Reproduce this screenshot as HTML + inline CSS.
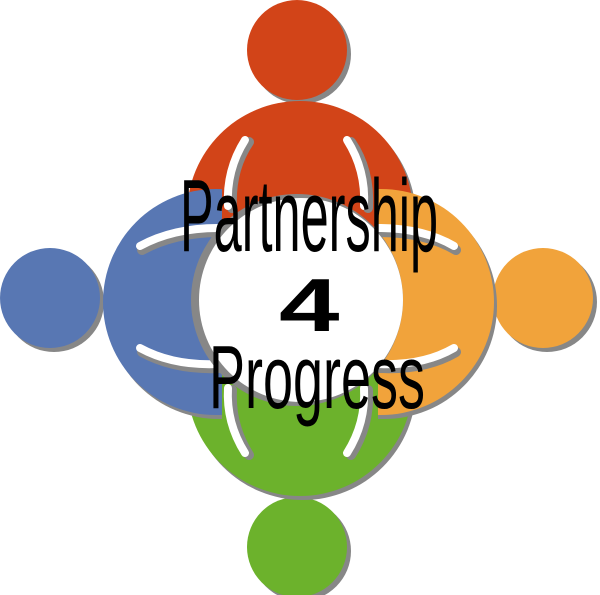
<!DOCTYPE html>
<html><head><style>html,body{margin:0;padding:0;background:#fff}svg{display:block}</style></head>
<body>
<svg width="600" height="595" viewBox="0 0 600 595" xmlns="http://www.w3.org/2000/svg">
<defs>
<clipPath id="cl"><rect x="0" y="0" width="222" height="595"/></clipPath>
<clipPath id="cr"><rect x="378" y="0" width="222" height="595"/></clipPath>
</defs>
<g fill="#878787">
<circle cx="301" cy="54" r="50"/><circle cx="54" cy="302" r="50"/><circle cx="547" cy="302" r="50"/><circle cx="301" cy="551" r="50"/>
</g>
<circle cx="297" cy="50" r="50" fill="#d24418"/>
<circle cx="50" cy="298" r="50" fill="#5877b3"/>
<circle cx="543" cy="298" r="50" fill="#f1a33b"/>
<circle cx="297" cy="547" r="50" fill="#6cb22c"/>

<!-- bodies -->
<circle cx="303" cy="218" r="113" fill="#878787"/>
<circle cx="300" cy="214" r="113" fill="#d24418"/>
<circle cx="303" cy="387" r="113" fill="#878787"/>
<circle cx="300" cy="383" r="113" fill="#6cb22c"/>
<g clip-path="url(#cl)">
<circle cx="219" cy="306" r="113" fill="#878787"/>
<circle cx="216" cy="302" r="113" fill="#5877b3"/>
</g>
<g clip-path="url(#cr)">
<circle cx="384" cy="306" r="113" fill="#878787"/>
<circle cx="381" cy="302" r="113" fill="#f1a33b"/>
</g>

<!-- arm gaps -->
<g fill="none" stroke-linecap="round">
<g stroke="#878787" stroke-width="10">
<path d="M249 142 Q230 170 232 208"/><path d="M351 142 Q370 170 368 208"/>
<path d="M249 455 Q230 425 232 390"/><path d="M351 455 Q370 425 368 390"/>
<path d="M142 250 Q175 232 220 232"/><path d="M142 352 Q175 370 220 368"/>
<path d="M456 250 Q425 232 380 232"/><path d="M456 352 Q425 370 380 368"/>
</g>
<g stroke="#fff" stroke-width="8">
<path d="M245 140 Q226 170 228 206"/><path d="M347 140 Q366 170 364 206"/>
<path d="M245 453 Q226 423 228 388"/><path d="M347 453 Q366 423 364 388"/>
<path d="M140 246 Q173 228 218 228"/><path d="M140 348 Q173 366 218 364"/>
<path d="M454 246 Q423 228 378 228"/><path d="M454 348 Q423 366 378 364"/>
</g>
</g>

<!-- center -->
<circle cx="297" cy="300" r="106" fill="#878787"/>
<circle cx="301" cy="300" r="102" fill="#fff"/>

<g font-family="Liberation Sans, sans-serif" fill="#000">
<text x="0" y="0" font-size="103" transform="translate(180 251) scale(0.49 1)">Partnership</text>
<text x="0" y="0" font-size="90" transform="translate(209 408) scale(0.6 1)">Progress</text>
<text x="0" y="0" font-size="75" font-weight="bold" transform="translate(279 331) scale(1.45 1)">4</text>
</g>
</svg>
</body></html>
